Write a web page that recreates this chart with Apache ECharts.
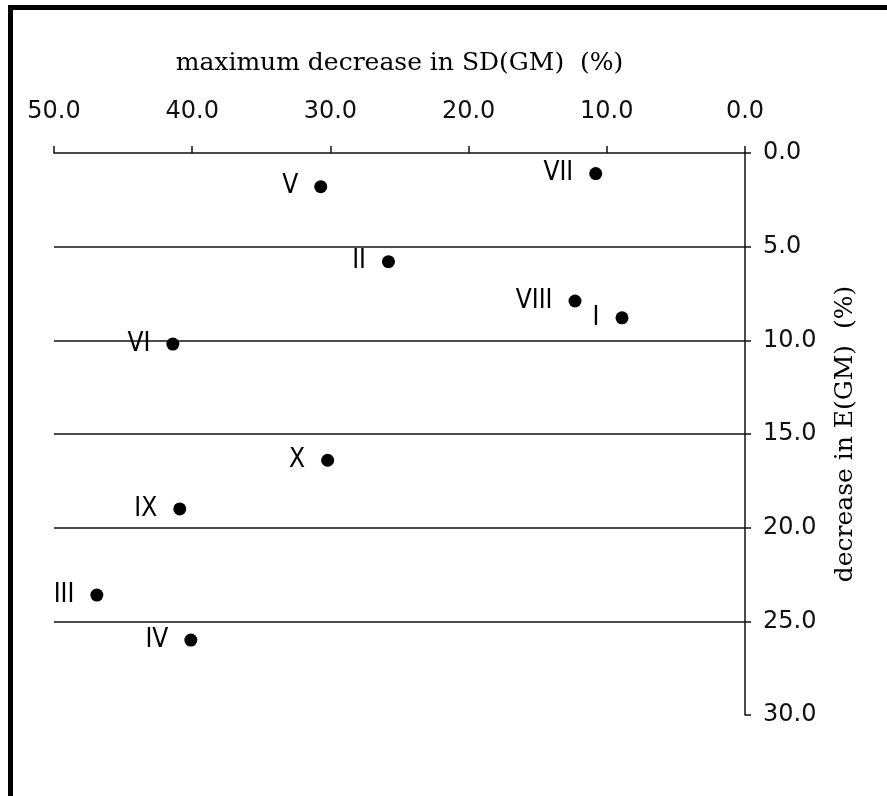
<!DOCTYPE html>
<html>
<head>
<meta charset="utf-8">
<script src="https://cdn.jsdelivr.net/npm/echarts@6/dist/echarts.min.js"></script>
<style>
html,body{margin:0;padding:0;background:#fff;}
#chart{width:887px;height:796px;}
</style>
</head>
<body>
<div id="chart"></div>
<script>
var pointLabels = ['I','II','III','IV','V','VI','VII','VIII','IX','X'];
var sdDecrease = [8.9, 25.8, 46.9, 40.1, 30.7, 41.4, 10.8, 12.3, 40.9, 30.2];
var eDecrease  = [8.8, 5.8, 23.6, 26.0, 1.8, 10.2, 1.1, 7.9, 19.0, 16.4];
var xAxisTitle = 'maximum decrease in SD(GM)  (%)';
var yAxisTitle = 'decrease in E(GM)  (%)';

var points = pointLabels.map(function (n, i) {
  return { name: n, value: [sdDecrease[i], eDecrease[i]] };
});

var chart = echarts.init(document.getElementById('chart'));
chart.setOption({
  backgroundColor: '#fff',
  animation: false,
  graphic: [
    { type: 'rect', left: 8, top: 5, shape: { width: 879, height: 5 }, style: { fill: '#000' } },
    { type: 'rect', left: 8, top: 5, shape: { width: 5, height: 791 }, style: { fill: '#000' } }
  ],
  grid: { left: 54, right: 142, top: 153, bottom: 81 },
  xAxis: {
    type: 'value',
    position: 'top',
    inverse: true,
    min: 0, max: 50, interval: 10,
    name: xAxisTitle,
    nameLocation: 'middle',
    nameGap: 77,
    nameMoveOverlap: false,
    nameTextStyle: { fontFamily: '"DejaVu Serif", serif', fontSize: 25, color: '#000' },
    axisLine: { show: true, lineStyle: { color: '#111', width: 1.5 } },
    axisTick: { show: true, inside: false, length: 7, lineStyle: { color: '#111', width: 1.5 } },
    axisLabel: {
      margin: 29,
      fontFamily: '"DejaVu Sans", sans-serif', fontSize: 24, color: '#111',
      formatter: function (v) { return v.toFixed(1); }
    },
    splitLine: { show: false }
  },
  yAxis: {
    type: 'value',
    position: 'right',
    inverse: true,
    min: 0, max: 30, interval: 5,
    name: yAxisTitle,
    nameLocation: 'middle',
    nameGap: 88,
    nameRotate: 90,
    nameMoveOverlap: false,
    nameTextStyle: { fontFamily: '"DejaVu Serif", serif', fontSize: 25, color: '#000' },
    axisLine: { show: true, lineStyle: { color: '#111', width: 1.5 } },
    axisTick: { show: true, inside: false, length: 6, lineStyle: { color: '#111', width: 1.5 } },
    axisLabel: {
      margin: 18,
      fontFamily: '"DejaVu Sans", sans-serif', fontSize: 24, color: '#111',
      formatter: function (v) { return v.toFixed(1); }
    },
    splitLine: { show: true, showMinLine: false, showMaxLine: false, lineStyle: { color: '#111', width: 1.5 } }
  },
  series: [{
    type: 'scatter',
    symbol: 'circle',
    symbolSize: 13,
    itemStyle: { color: '#000', opacity: 1 },
    data: points,
    label: {
      show: true,
      position: 'left',
      distance: 16,
      formatter: '{b}',
      fontFamily: '"Liberation Sans Narrow", "DejaVu Sans Condensed", sans-serif',
      fontSize: 26,
      color: '#000'
    }
  }]
});
</script>
</body>
</html>
